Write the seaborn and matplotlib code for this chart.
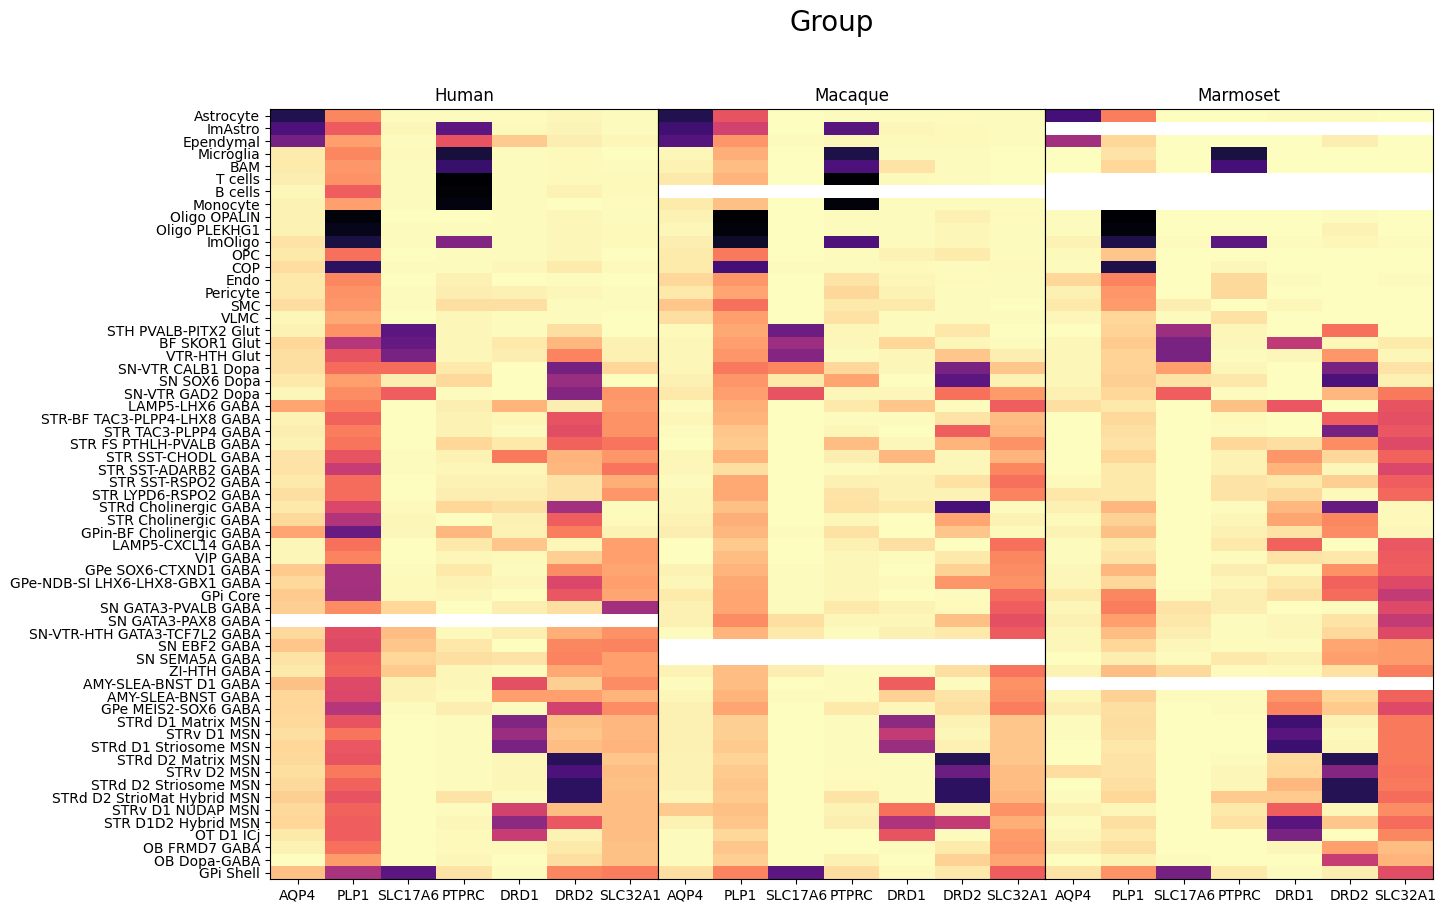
import numpy as np
import matplotlib
matplotlib.use("Agg")
import matplotlib.pyplot as plt
import seaborn as sns

nan = np.nan

genes = ["AQP4", "PLP1", "SLC17A6", "PTPRC", "DRD1", "DRD2", "SLC32A1"]
species = ["Human", "Macaque", "Marmoset"]
cell_types = [
    "Astrocyte", "ImAstro", "Ependymal", "Microglia", "BAM", "T cells", "B cells", "Monocyte",
    "Oligo OPALIN", "Oligo PLEKHG1", "ImOligo", "OPC", "COP", "Endo", "Pericyte", "SMC", "VLMC",
    "STH PVALB-PITX2 Glut", "BF SKOR1 Glut", "VTR-HTH Glut", "SN-VTR CALB1 Dopa", "SN SOX6 Dopa",
    "SN-VTR GAD2 Dopa", "LAMP5-LHX6 GABA", "STR-BF TAC3-PLPP4-LHX8 GABA", "STR TAC3-PLPP4 GABA",
    "STR FS PTHLH-PVALB GABA", "STR SST-CHODL GABA", "STR SST-ADARB2 GABA", "STR SST-RSPO2 GABA",
    "STR LYPD6-RSPO2 GABA", "STRd Cholinergic GABA", "STR Cholinergic GABA",
    "GPin-BF Cholinergic GABA", "LAMP5-CXCL14 GABA", "VIP GABA", "GPe SOX6-CTXND1 GABA",
    "GPe-NDB-SI LHX6-LHX8-GBX1 GABA", "GPi Core", "SN GATA3-PVALB GABA", "SN GATA3-PAX8 GABA",
    "SN-VTR-HTH GATA3-TCF7L2 GABA", "SN EBF2 GABA", "SN SEMA5A GABA", "ZI-HTH GABA",
    "AMY-SLEA-BNST D1 GABA", "AMY-SLEA-BNST GABA", "GPe MEIS2-SOX6 GABA", "STRd D1 Matrix MSN",
    "STRv D1 MSN", "STRd D1 Striosome MSN", "STRd D2 Matrix MSN", "STRv D2 MSN",
    "STRd D2 Striosome MSN", "STRd D2 StrioMat Hybrid MSN", "STRv D1 NUDAP MSN",
    "STR D1D2 Hybrid MSN", "OT D1 ICj", "OB FRMD7 GABA", "OB Dopa-GABA", "GPi Shell",
]

gap = [nan] * 7

human = [
    [.86, .25, .005, .005, .005, .012, .005], [.76, .35, .012, .72, .008, .02, .005],
    [.66, .2, .005, .37, .11, .035, .018], [.04, .25, .008, .89, .005, .008, .002],
    [.04, .22, .005, .81, .005, .008, .005], [.035, .23, .005, 1, .005, .008, .008],
    [.018, .34, .005, .99, .005, .025, .008], [.025, .2, .005, .97, .005, .002, .005],
    [.025, .98, .002, .002, .005, .012, .005], [.025, .95, .005, .005, .005, .012, .008],
    [.055, .88, .005, .63, .005, .018, .008], [.045, .3, .002, .005, .005, .012, .002],
    [.07, .83, .005, .005, .012, .04, .008], [.045, .25, .002, .03, .002, .005, .002],
    [.045, .23, .005, .035, .03, .018, .005], [.07, .22, .005, .065, .065, .005, .005],
    [.018, .18, .001, .018, .005, .005, .002], [.025, .23, .72, .012, .005, .065, .002],
    [.085, .5, .7, .018, .045, .15, .03], [.065, .37, .65, .018, .035, .26, .03],
    [.065, .31, .31, .045, .001, .66, .085], [.045, .2, .035, .075, .001, .57, .002],
    [.012, .24, .34, .005, .002, .62, .22], [.19, .27, .001, .035, .16, .035, .21],
    [.025, .33, .002, .025, .018, .37, .23], [.035, .27, .001, .025, .005, .39, .23],
    [.025, .29, .001, .085, .045, .33, .29], [.055, .37, .005, .025, .28, .16, .22],
    [.055, .46, .005, .012, .012, .15, .29], [.045, .31, .002, .025, .025, .055, .17],
    [.065, .31, .002, .035, .035, .055, .22], [.045, .41, .008, .085, .065, .55, .005],
    [.075, .51, .012, .002, .03, .34, .008], [.19, .69, .018, .15, .025, .27, .025],
    [.012, .3, .002, .045, .12, .018, .2], [.018, .26, .002, .012, .008, .1, .2],
    [.11, .54, .005, .045, .005, .24, .19], [.075, .54, .008, .025, .012, .41, .2],
    [.11, .55, .008, .018, .001, .36, .19], [.1, .24, .085, .001, .035, .065, .55],
    gap, [.075, .39, .14, .008, .035, .17, .23],
    [.12, .4, .12, .05, .002, .25, .26], [.055, .34, .085, .065, .055, .26, .2],
    [.045, .33, .11, .018, .005, .18, .2], [.13, .4, .025, .012, .38, .1, .24],
    [.085, .41, .025, .008, .2, .2, .16], [.085, .5, .005, .035, .005, .43, .24],
    [.075, .37, .001, .005, .63, .13, .15], [.065, .29, .001, .005, .57, .12, .15],
    [.085, .36, .001, .005, .65, .14, .16], [.075, .37, .001, .005, .012, .84, .12],
    [.065, .28, .001, .005, .012, .76, .14], [.075, .33, .001, .006, .012, .83, .13],
    [.1, .37, .001, .055, .006, .83, .14], [.075, .33, .001, .006, .43, .14, .14],
    [.085, .34, .001, .012, .6, .36, .14], [.045, .34, .003, .008, .46, .025, .14],
    [.025, .3, .003, .008, .008, .045, .13], [.001, .21, .003, .018, .001, .065, .13],
    [.13, .53, .72, .055, .006, .25, .27],
]

macaque = [
    [.86, .37, .002, .005, .005, .005, .005], [.79, .43, .001, .73, .012, .008, .005],
    [.74, .22, .005, .018, .008, .008, .005], [.012, .17, .001, .87, .004, .005, .001],
    [.025, .14, .001, .76, .055, .006, .002], [.045, .16, .002, 1, .008, .004, .002],
    gap, [.04, .13, .002, .98, .005, .005, .004],
    [.025, 1, .001, .004, .005, .03, .008], [.018, .98, .001, .004, .005, .012, .005],
    [.035, .92, .001, .75, .004, .018, .004], [.04, .28, .001, .006, .025, .04, .005],
    [.04, .78, .006, .006, .008, .006, .008], [.08, .22, .001, .055, .018, .008, .005],
    [.045, .19, .002, .08, .025, .005, .004], [.12, .3, .001, .045, .045, .005, .001],
    [.065, .2, .001, .06, .005, .005, .004], [.008, .18, .68, .018, .004, .05, .001],
    [.018, .2, .56, .018, .085, .012, .004], [.018, .22, .62, .006, .018, .12, .035],
    [.012, .28, .25, .08, .018, .65, .12], [.03, .22, .045, .19, .001, .72, .025],
    [.045, .2, .37, .018, .018, .3, .21], [.005, .17, .001, .045, .12, .005, .34],
    [.012, .16, .001, .005, .006, .055, .14], [.004, .12, .001, .012, .003, .34, .15],
    [.003, .11, .001, .14, .012, .16, .23], [.012, .16, .001, .035, .15, .012, .16],
    [.012, .065, .001, .006, .012, .018, .25], [.006, .18, .001, .03, .025, .06, .3],
    [.018, .18, .001, .055, .025, .025, .26], [.018, .13, .001, .06, .045, .77, .005],
    [.025, .17, .001, .012, .003, .19, .025], [.035, .15, .004, .06, .003, .12, .008],
    [.003, .11, .001, .03, .065, .003, .3], [.003, .14, .001, .018, .006, .045, .25],
    [.025, .16, .004, .012, .003, .095, .24], [.012, .18, .004, .018, .008, .22, .23],
    [.04, .19, .004, .012, .001, .004, .31], [.03, .19, .004, .045, .025, .008, .34],
    [.03, .24, .065, .012, .018, .13, .38], [.006, .16, .045, .006, .03, .045, .35],
    gap, gap,
    [.025, .14, .035, .006, .006, .065, .29], [.006, .14, .002, .004, .34, .006, .23],
    [.018, .16, .006, .006, .095, .055, .24], [.03, .19, .001, .045, .018, .065, .27],
    [.03, .1, .001, .005, .6, .025, .12], [.03, .1, .001, .005, .47, .012, .12],
    [.03, .11, .001, .005, .57, .03, .12], [.025, .09, .001, .005, .005, .85, .12],
    [.025, .11, .001, .005, .005, .68, .14], [.025, .12, .001, .008, .005, .83, .14],
    [.012, .11, .001, .055, .004, .83, .15], [.11, .13, .001, .025, .3, .03, .23],
    [.025, .12, .001, .035, .52, .47, .17], [.004, .08, .001, .001, .37, .004, .21],
    [.004, .12, .002, .003, .006, .04, .22], [.006, .1, .003, .03, .003, .095, .19],
    [.065, .26, .72, .07, .008, .045, .34],
]

marmoset = [
    [.78, .27, .002, .002, .005, .004, .002], gap,
    [.55, .085, .002, .002, .002, .035, .002], [.002, .055, .002, .88, .001, .002, .002],
    [.002, .085, .002, .78, .002, .002, .002], gap,
    gap, gap,
    [.004, 1, .002, .002, .003, .006, .002], [.004, .98, .002, .002, .002, .025, .002],
    [.025, .87, .006, .72, .005, .018, .005], [.008, .12, .001, .001, .001, .002, .001],
    [.004, .87, .001, .012, .002, .002, .002], [.085, .26, .003, .075, .006, .001, .006],
    [.03, .22, .003, .075, .001, .001, .002], [.045, .21, .035, .001, .018, .001, .002],
    [.012, .085, .005, .06, .001, .001, .001], [.003, .09, .56, .012, .001, .3, .001],
    [.012, .11, .65, .012, .48, .012, .04], [.012, .09, .65, .005, .018, .22, .012],
    [.012, .09, .2, .012, .001, .65, .055], [.018, .1, .055, .05, .001, .76, .03],
    [.03, .085, .34, .004, .001, .15, .28], [.065, .045, .001, .13, .36, .003, .37],
    [.002, .075, .001, .008, .003, .34, .38], [.002, .065, .001, .005, .001, .66, .36],
    [.002, .055, .001, .085, .065, .24, .4], [.002, .085, .001, .025, .22, .08, .33],
    [.002, .045, .001, .025, .16, .012, .41], [.008, .045, .001, .055, .045, .1, .34],
    [.05, .045, .001, .055, .075, .008, .32], [.03, .15, .001, .005, .15, .7, .008],
    [.008, .095, .001, .012, .19, .25, .008], [.025, .13, .001, .03, .055, .24, .018],
    [.004, .04, .001, .045, .33, .001, .36], [.004, .055, .001, .005, .055, .05, .35],
    [.012, .15, .001, .035, .008, .23, .34], [.012, .08, .001, .012, .045, .33, .4],
    [.04, .25, .005, .035, .065, .31, .47], [.018, .27, .055, .035, .001, .004, .4],
    [.03, .2, .05, .006, .012, .055, .47], [.012, .14, .035, .005, .012, .075, .4],
    [.012, .085, .012, .004, .004, .19, .21], [.003, .035, .005, .045, .03, .2, .21],
    [.025, .14, .075, .006, .008, .06, .27], gap,
    [.018, .095, .004, .005, .22, .085, .33], [.035, .065, .001, .004, .26, .11, .4],
    [.005, .07, .001, .003, .79, .025, .28], [.005, .065, .001, .002, .73, .008, .28],
    [.002, .05, .001, .002, .8, .018, .28], [.003, .055, .001, .005, .075, .85, .28],
    [.07, .055, .001, .012, .085, .62, .29], [.003, .065, .001, .012, .15, .85, .28],
    [.004, .085, .001, .11, .11, .85, .31], [.03, .018, .001, .045, .34, .012, .24],
    [.006, .065, .001, .06, .73, .12, .31], [.018, .045, .001, .003, .65, .001, .25],
    [.035, .065, .001, .003, .018, .2, .14], [.002, .025, .005, .003, .003, .46, .16],
    [.055, .23, .66, .04, .006, .035, .39],
]

fig, axes = plt.subplots(1, 3, figsize=(14.46, 9.13), dpi=100, sharey=True)
fig.subplots_adjust(left=270 / 1446, right=1433 / 1446, top=1 - 109.5 / 913, bottom=1 - 879 / 913, wspace=0)

for ax, name, values in zip(axes, species, [human, macaque, marmoset]):
    sns.heatmap(np.array(values, dtype=float), ax=ax, cmap="magma_r", vmin=0, vmax=1, cbar=False,
                xticklabels=genes, yticklabels=cell_types)
    ax.set_title(name, fontsize=12)
    ax.tick_params(axis="x", labelrotation=0)
    ax.tick_params(axis="y", labelrotation=0)
    plt.setp(ax.get_yticklabels(), va="center_baseline")
    for spine in ax.spines.values():
        spine.set_visible(True)
        spine.set_linewidth(0.8)

for ax in axes[1:]:
    ax.tick_params(axis="y", left=False, labelleft=False)

fig.text(832 / 1446, 1 - 23 / 913, "Group", fontsize=20, ha="center", va="center")
fig.savefig("out.png", dpi=100)
